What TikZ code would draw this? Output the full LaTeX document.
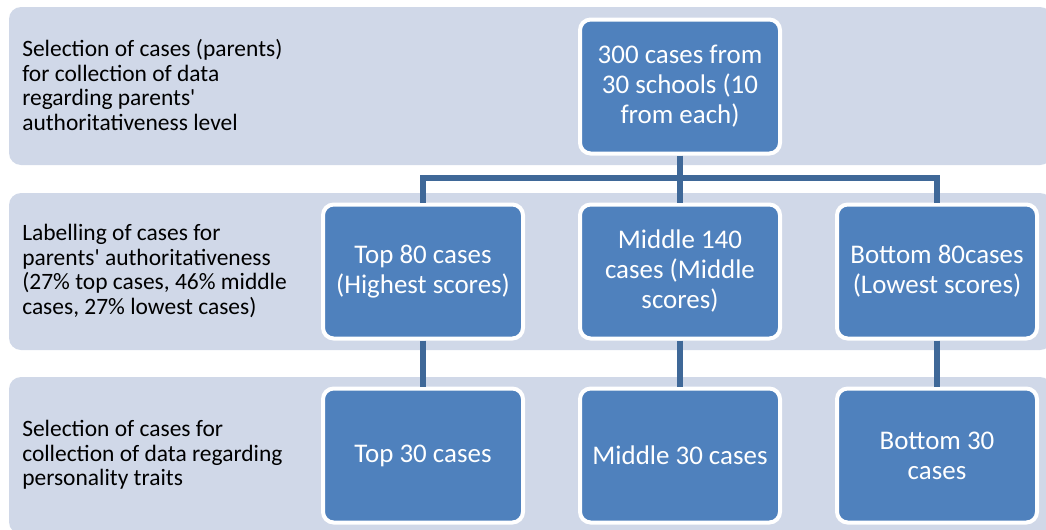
\documentclass[tikz,border=0pt]{standalone}
\usepackage{fontspec}
\setmainfont{Carlito}
\usepackage{tikz}
\usetikzlibrary{positioning}
\definecolor{BandGray}{HTML}{D0D8E8}
\definecolor{CaseBlue}{HTML}{4F81BD}
\definecolor{LinkBlue}{HTML}{3F6898}

\begin{document}
\begin{tikzpicture}[x=0.75pt,y=-0.75pt,
    stagetext/.style={anchor=west, align=left, inner sep=0pt, text=black, font=\fontsize{17.6}{18.4}\selectfont},
    casebox/.style={draw=white, line width=3pt, fill=CaseBlue, rounded corners=8pt, text=white, align=center,
        minimum width=150pt, minimum height=100.5pt, font=\fontsize{20.2}{22.5}\selectfont},
    link/.style={draw=LinkBlue, line width=3.9pt}]
        \useasboundingbox (0,0) rectangle (1046,529);
        % stage bands
        \fill[BandGray, rounded corners=9pt] (9,7) rectangle (1052,165);
        \fill[BandGray, rounded corners=9pt] (9,193) rectangle (1052,350);
        \fill[BandGray, rounded corners=9pt] (9,377) rectangle (1052,534);
        \node[stagetext] (stageone) at (22,85) {Selection of cases (parents)\\for collection of data\\regarding parents\textquotesingle\\authoritativeness level};
        \node[stagetext] (stagetwo) at (22,271) {Labelling of cases for\\parents\textquotesingle{} authoritativeness\\(27\% top cases, 46\% middle\\cases, 27\% lowest cases)};
        \node[stagetext] (stagethree) at (22,455) {Selection of cases for\\collection of data regarding\\personality traits};
        % case boxes
        \node[casebox] (allcases) at (680,86.5) {300 cases from\\30 schools (10\\from each)};
        \node[casebox] (topeighty) at (423,271.5) {Top 80 cases\\(Highest scores)};
        \node[casebox] (middlehundred) at (680,271.5) {Middle 140\\cases (Middle\\scores)};
        \node[casebox] (bottomeighty) at (937,271.5) {Bottom 80cases\\(Lowest scores)};
        \node[casebox] (topthirty) at (423,455.5) {Top 30 cases};
        \node[casebox] (middlethirty) at (680,455.5) {Middle 30 cases};
        \node[casebox] (bottomthirty) at (937,455.5) {Bottom 30\\cases};
        % connectors
        \coordinate (split) at (680,178);
        \draw[link] (allcases) -- (split);
        \draw[link] (split) -| (topeighty);
        \draw[link] (split) -| (bottomeighty);
        \draw[link] (split) -- (middlehundred);
        \draw[link] (topeighty) -- (topthirty);
        \draw[link] (middlehundred) -- (middlethirty);
        \draw[link] (bottomeighty) -- (bottomthirty);
    \end{tikzpicture}
\end{document}
